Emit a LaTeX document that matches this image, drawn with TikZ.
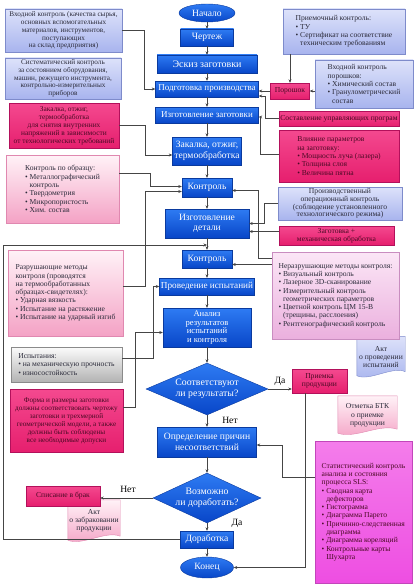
\documentclass[tikz,border=0pt]{standalone}
\usepackage{fontspec}
\setmainfont{Liberation Serif}
\usetikzlibrary{shapes.geometric,arrows.meta}
\pgfdeclarelayer{bg}
\pgfsetlayers{bg,main}

\definecolor{blutop}{HTML}{2E7BF3}
\definecolor{blubot}{HTML}{0846C8}
\definecolor{bluedge}{HTML}{0A3A9E}
\definecolor{lbtop}{HTML}{DDE2FA}
\definecolor{lbbot}{HTML}{A8B4EE}
\definecolor{lbedge}{HTML}{7E8BCB}
\definecolor{mgtop}{HTML}{F4498F}
\definecolor{mgbot}{HTML}{E61F6E}
\definecolor{mgedge}{HTML}{B3105B}
\definecolor{lptop}{HTML}{FFF2F7}
\definecolor{lpbot}{HTML}{F4A2C5}
\definecolor{lpedge}{HTML}{E088B0}
\definecolor{lltop}{HTML}{FBE6F6}
\definecolor{llbot}{HTML}{EBB0DE}
\definecolor{lledge}{HTML}{C98DC0}
\definecolor{grtop}{HTML}{FBFBFB}
\definecolor{grbot}{HTML}{B3B3B3}
\definecolor{gredge}{HTML}{8A8A8A}
\definecolor{vitop}{HTML}{F47DEB}
\definecolor{vibot}{HTML}{EE4EE2}
\definecolor{viedge}{HTML}{C246BA}
\definecolor{ink}{HTML}{2B2B3A}
\definecolor{mgink}{HTML}{4A0A24}
\definecolor{wire}{HTML}{454545}

% document shape behind a text node
\newcommand{\docpath}[2]{%
  \begin{pgfonlayer}{bg}
  \path[#2] (#1.north west) -- (#1.north east) -- ([yshift=6pt]#1.south east)
    .. controls ([xshift=12pt,yshift=12pt]#1.south) and ([xshift=-12pt,yshift=-4pt]#1.south)
    .. ([yshift=2pt]#1.south west) -- cycle;
  \end{pgfonlayer}}

\begin{document}
\begin{tikzpicture}[x=1pt,y=-1pt,
  blu/.style={rectangle,draw=bluedge,line width=0.4pt,top color=blutop,bottom color=blubot,text=white,align=center,inner sep=1pt,font=\fontsize{9.6}{10.4}\selectfont},
  term/.style={blu,ellipse},
  cond/.style={blu,diamond,aspect=2.3,inner sep=0pt,font=\fontsize{9.8}{11}\selectfont},
  side/.style={rectangle,draw,line width=0.4pt,inner sep=1pt,text=ink,font=\fontsize{7.6}{8.3}\selectfont},
  lightblue/.style={side,draw=lbedge,top color=lbtop,bottom color=lbbot},
  pinkbox/.style={side,draw=mgedge,top color=mgtop,bottom color=mgbot,text=mgink},
  softpink/.style={side,draw=lpedge,top color=lptop,bottom color=lpbot},
  lilacbox/.style={side,draw=lledge,top color=lltop,bottom color=llbot},
  greybox/.style={side,draw=gredge,top color=grtop,bottom color=grbot},
  violetbox/.style={side,draw=viedge,top color=vitop,bottom color=vibot,text=mgink},
  doc/.style={align=center,inner sep=1pt,text=ink,font=\fontsize{7.6}{8.3}\selectfont},
  docblue/.style={draw=lbedge,line width=0.4pt,top color=lbtop,bottom color=lbbot},
  docpink/.style={draw=lpedge,line width=0.4pt,top color=lptop,bottom color=lpbot},
  arr/.style={draw=wire,line width=0.5pt,-{Stealth[length=3.5pt,width=3pt]}},
  lab/.style={font=\fontsize{9.6}{10}\selectfont,text=black}]
\useasboundingbox (0,0) rectangle (415,586);

% main flow
\node[term,minimum width=56pt,minimum height=18pt](start) at (207,13){Начало};
\node[blu,minimum width=53pt,minimum height=17pt](drw) at (207,37.5){Чертеж};
\node[blu,minimum width=100pt,minimum height=18pt,font=\fontsize{10}{11}\selectfont](sketch) at (207,64){Эскиз заготовки};
\node[blu,minimum width=103pt,minimum height=16pt,font=\fontsize{9}{10}\selectfont](prep) at (207,89){Подготовка производства};
\node[blu,minimum width=103pt,minimum height=16pt,font=\fontsize{9}{10}\selectfont](blank) at (207,115){Изготовление заготовки};
\node[blu,minimum width=69pt,minimum height=28pt](hard) at (207,151){Закалка, отжиг,\\термообработка};
\node[blu,minimum width=50pt,minimum height=19pt](ctl1) at (207,187.5){Контроль};
\node[blu,minimum width=84pt,minimum height=29pt](det) at (207,223.5){Изготовление\\детали};
\node[blu,minimum width=50pt,minimum height=18pt](ctl2) at (207,259){Контроль};
\node[blu,minimum width=95pt,minimum height=17pt,font=\fontsize{9.2}{10}\selectfont](trial) at (207,286.5){Проведение испытаний};
\node[blu,minimum width=88pt,minimum height=39pt,font=\fontsize{8.6}{8.8}\selectfont](anl) at (207,327.5){Анализ\\результатов\\испытаний\\и контроля};
\node[cond,minimum width=122pt,minimum height=52pt](d1) at (207,389){Соответствуют\\ли результаты?};
\node[blu,minimum width=99pt,minimum height=30pt](cause) at (207,442){Определение причин\\несоответствий};
\node[cond,minimum width=105pt,minimum height=50pt](d2) at (207,498){Возможно\\ли доработать?};
\node[blu,minimum width=53pt,minimum height=17pt](rework) at (207,539.5){Доработка};
\node[term,minimum width=53pt,minimum height=21pt](finish) at (207,567.5){Конец};
\coordinate (fbin) at (207,245);

% left column
\node[lightblue,minimum width=117pt,minimum height=43pt,align=center,font=\fontsize{7.2}{7.8}\selectfont](inraw) at (63.5,30.5){Входной контроль (качества сырья,\\основных вспомогательных\\материалов, инструментов,\\поступающих\\на склад предприятия)};
\node[lightblue,minimum width=116pt,minimum height=41pt,align=center,font=\fontsize{7.2}{7.6}\selectfont](equip) at (63,78.5){Систематический контроль\\за состоянием оборудования,\\машин, режущего инструмента,\\контрольно-измерительных\\приборов};
\node[pinkbox,minimum width=110pt,minimum height=45pt,align=center,font=\fontsize{7.4}{8}\selectfont](harden) at (64,125.5){Закалка, отжиг,\\термообработка\\для снятия внутренних\\напряжений в зависимости\\от технологических требований};
\node[softpink,minimum width=113pt,minimum height=68pt,align=left](sample) at (62.5,189){Контроль по образцу:\\\textbullet~Металлографический\\\phantom{\textbullet~}контроль\\\textbullet~Твердометрия\\\textbullet~Микропористость\\\textbullet~Хим. состав};
\node[softpink,minimum width=115pt,minimum height=86pt,align=left](destr) at (65.5,293){Разрушающие методы\\контроля (проводятся\\на термообработанных\\образцах-свидетелях):\\\textbullet~Ударная вязкость\\\textbullet~Испытание на растяжение\\\textbullet~Испытание на ударный изгиб};
\node[greybox,minimum width=111pt,minimum height=35pt,align=left](tests) at (66.5,364.5){Испытания:\\\textbullet~на механическую прочность\\\textbullet~износостойкость};
\node[pinkbox,minimum width=113pt,minimum height=63pt,align=center,font=\fontsize{7.2}{8}\selectfont](shape) at (66.5,420.5){Форма и размеры заготовки\\должны соответствовать чертежу\\заготовки и трехмерной\\геометрической модели, а также\\должны быть соблюдены\\все необходимые допуски};
\node[pinkbox,minimum width=74pt,minimum height=20pt](scrap) at (63,496){Списание в брак};
\node[doc,minimum width=52pt,minimum height=42pt](rejact) at (94,521){Акт\\о забраковании\\продукции};
\docpath{rejact}{docpink}

% right column
\node[lightblue,minimum width=122pt,minimum height=45pt,align=left](accept) at (344,31.5){Приемочный контроль:\\\textbullet~ТУ\\\textbullet~Сертификат на соответствие\\\phantom{\textbullet~}техническим требованиям};
\node[lightblue,minimum width=98pt,minimum height=48pt,align=left](inpow) at (364,84){Входной контроль\\порошков:\\\textbullet~Химический состав\\\textbullet~Гранулометрический\\\phantom{\textbullet~}состав};
\node[pinkbox,minimum width=39pt,minimum height=16pt](powder) at (290,91){Порошок};
\node[pinkbox,minimum width=120pt,minimum height=15pt](cnc) at (339,118.5){Составление управляющих програм};
\node[pinkbox,minimum width=120pt,minimum height=52pt,align=left](param) at (339,156){Влияние параметров\\на заготовку:\\\textbullet~Мощность луча (лазера)\\\textbullet~Толщина слоя\\\textbullet~Величина пятна};
\node[lightblue,minimum width=124pt,minimum height=33pt,align=center,font=\fontsize{7.6}{7.6}\selectfont](oper) at (340,203.5){Производственный\\операционный контроль\\(соблюдение установленного\\технологического режима)};
\node[pinkbox,minimum width=115pt,minimum height=19pt,align=center,font=\fontsize{7.6}{8}\selectfont](mach) at (336.5,235.5){Заготовка +\\механическая обработка};
\node[lilacbox,minimum width=127pt,minimum height=87pt,align=left](ndt) at (335.5,295.5){Неразрушающие методы контроля:\\\textbullet~Визуальный контроль\\\textbullet~Лазерное 3D-сканирование\\\textbullet~Измерительный контроль\\\phantom{\textbullet~}геометрических параметров\\\textbullet~Цветной контроль ЦМ 15-В\\\phantom{\textbullet~}(трещины, расслоения)\\\textbullet~Рентгенографический контроль};
\node[doc,minimum width=48pt,minimum height=41pt](testact) at (381,357){Акт\\о проведении\\испытаний};
\docpath{testact}{docblue}
\node[pinkbox,minimum width=55pt,minimum height=24pt,align=center](okprod) at (319.5,381){Приемка\\продукции};
\node[doc,minimum width=59pt,minimum height=39pt](btk) at (367.5,415.5){Отметка БТК\\о приемке\\продукции};
\docpath{btk}{docpink}
\node[violetbox,minimum width=97pt,minimum height=142pt,align=left](stat) at (363.5,512){Статистический контроль\\анализа и состояния\\процесса SLS:\\\textbullet~Сводная карта\\\phantom{\textbullet~}дефекторов\\\textbullet~Гистограмма\\\textbullet~Диаграмма Парето\\\textbullet~Причинно-следственная\\\phantom{\textbullet~}диаграмма\\\textbullet~Диаграмма кореляций\\\textbullet~Контрольные карты\\\phantom{\textbullet~}Шухарта};

% labels
\node[lab](yes1) at (280,381){Да};
\node[lab](no1) at (230,420){Нет};
\node[lab](no2) at (128,489){Нет};
\node[lab](yes2) at (237,523){Да};

% main arrows
\draw[arr] (start) -- (drw);
\draw[arr] (drw) -- (sketch);
\draw[arr] (sketch) -- (prep);
\draw[arr] (prep) -- (blank);
\draw[arr] (blank) -- (hard);
\draw[arr] (hard) -- (ctl1);
\draw[arr] (ctl1) -- (det);
\draw[arr] (det) -- (ctl2);
\draw[arr] (ctl2) -- (trial);
\draw[arr] (trial) -- (anl);
\draw[arr] (anl) -- (d1);
\draw[arr] (d1) -- (cause);
\draw[arr] (cause) -- (d2);
\draw[arr] (d2) -- (rework);
\draw[arr] (rework) -- (finish);

% left links
\draw[arr] (inraw.east) -- ++(22,0) |- (prep.west);
\draw[arr] (harden.east) -- ++(26,0) |- ([yshift=-4pt]hard.west);
\draw[arr] ([yshift=16pt]sample.east) -- ++(31,0) |- ([yshift=1pt]ctl1.west);
\draw[arr] ([yshift=7pt]destr.east) -- ++(22,0) |- ([yshift=-4pt]ctl1.west);
\draw[arr] ([yshift=6pt]tests.east) -- ++(31,0) |- (trial.west);
\draw[arr] ([yshift=13pt]shape.east) -- ++(12,0) |- ([yshift=-5pt]anl.west);
\draw[arr] (d2.west) -- (d2.west -| scrap.east);
\draw[arr] (rework.west) -- ++(-177,0) |- (fbin);

% right links
\draw[arr] (powder.north |- accept.south) -- (powder.north);
\draw[arr] (inpow.west |- powder) -- (powder.east);
\draw[arr] (powder.west) -- (powder.west -| prep.east);
\draw[arr] (cnc.west) -- ++(-14,0) |- ([yshift=-7pt]prep.east);
\draw[arr] ([yshift=2pt]param.west) -- ++(-19,0) |- ([yshift=-2pt]blank.east);
\draw[arr] (oper.west) -- ++(-14,0) |- (det.east);
\draw[arr] ([yshift=4pt]mach.west) -- ([yshift=4pt]mach.west -| det.east);
\draw[arr] ([yshift=37pt]ndt.west) -- ++(-14,0) |- ([yshift=-3pt]ctl1.east);
\draw[arr] ([yshift=31pt]ndt.west) -- ([yshift=31pt]ndt.west -| ctl2.east);
\draw[arr] (d1.east) -- (d1.east -| okprod.west);
\draw[arr] ([xshift=-14pt]okprod.south) |- (finish.east);
\draw[arr] ([yshift=35pt]stat.west) -- ++(-33,0) |- ([yshift=-3pt]cause.east);
\end{tikzpicture}
\end{document}
